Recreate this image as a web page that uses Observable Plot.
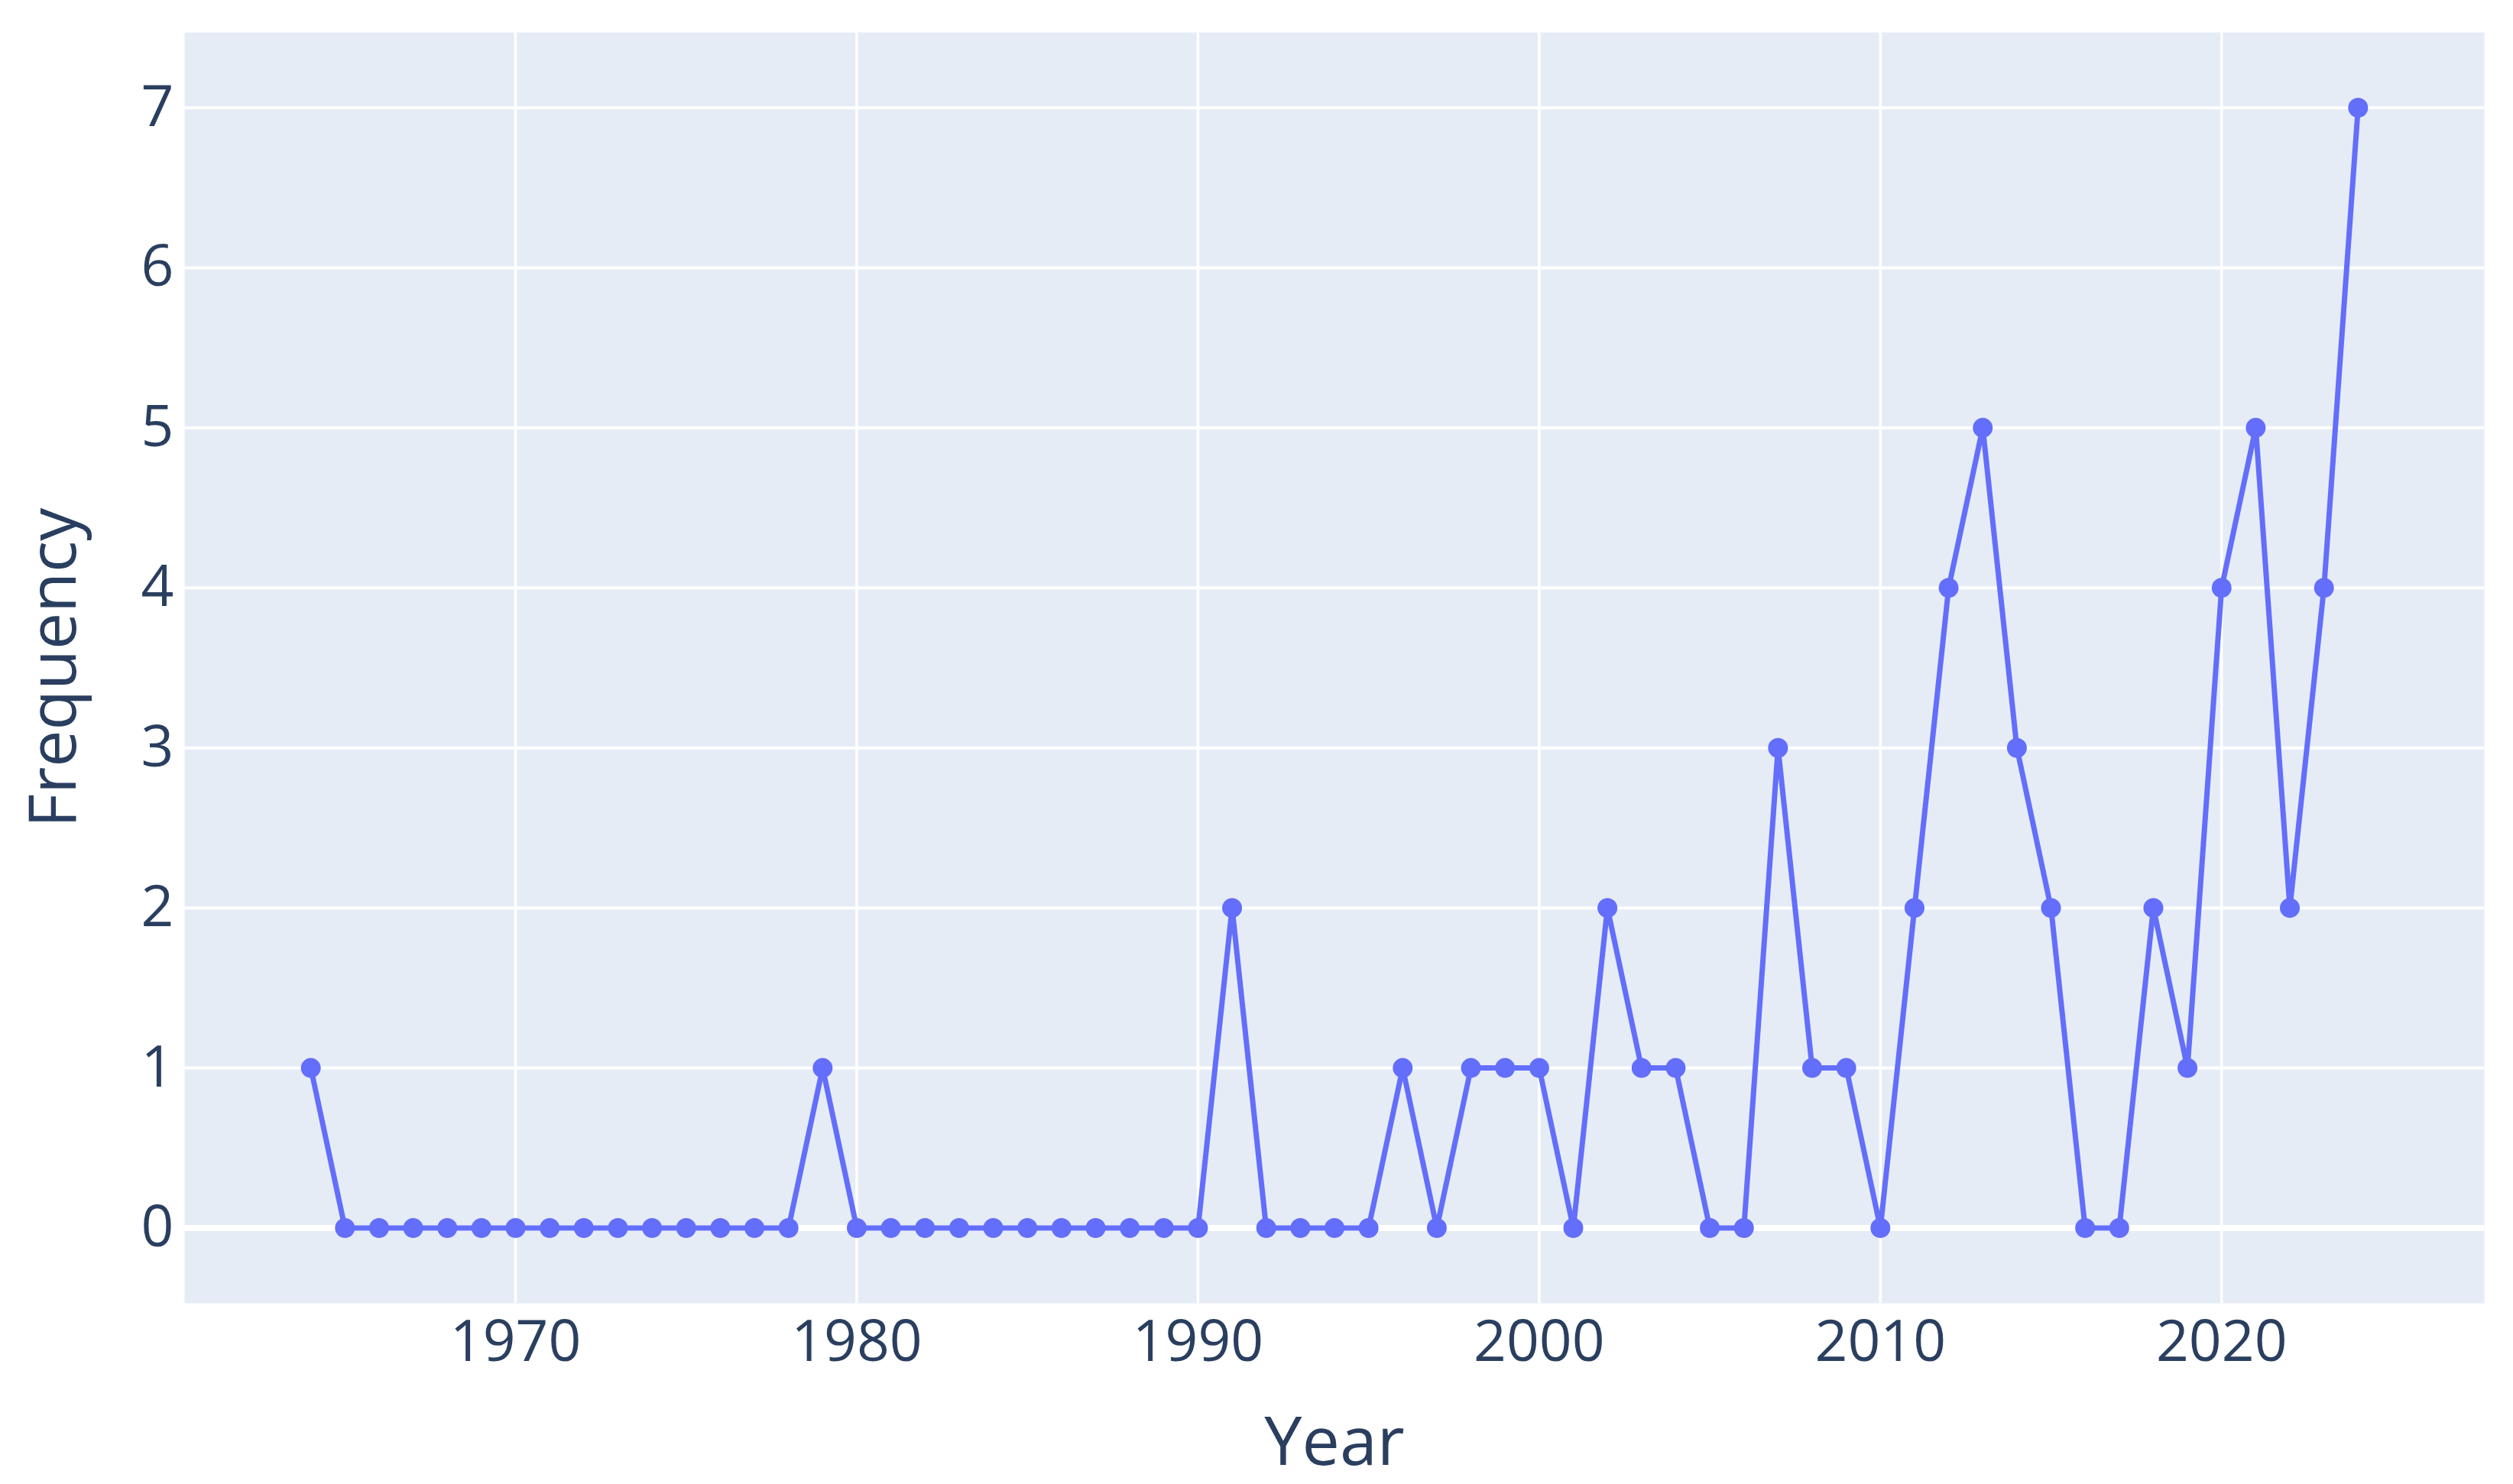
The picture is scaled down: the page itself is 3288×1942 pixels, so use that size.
<!DOCTYPE html>
<html>
<head>
<meta charset="utf-8">
<script src="https://cdn.jsdelivr.net/npm/d3@7"></script>
<script src="https://cdn.jsdelivr.net/npm/@observablehq/plot@0.6"></script>
<style>
  html, body { margin: 0; padding: 0; background: #ffffff; }
  svg { display: block; }
</style>
</head>
<body>
<div id="chart"></div>
<script>
const years = [1964,1965,1966,1967,1968,1969,1970,1971,1972,1973,1974,1975,1976,1977,1978,1979,1980,1981,1982,1983,1984,1985,1986,1987,1988,1989,1990,1991,1992,1993,1994,1995,1996,1997,1998,1999,2000,2001,2002,2003,2004,2005,2006,2007,2008,2009,2010,2011,2012,2013,2014,2015,2016,2017,2018,2019,2020,2021,2022,2023,2024];
const frequency = [1,0,0,0,0,0,0,0,0,0,0,0,0,0,0,1,0,0,0,0,0,0,0,0,0,0,0,2,0,0,0,0,1,0,1,1,1,0,2,1,1,0,0,3,1,1,0,2,4,5,3,2,0,0,2,1,4,5,2,4,7];
const xTicks = [1970, 1980, 1990, 2000, 2010, 2020];
const yTicks = [0, 1, 2, 3, 4, 5, 6, 7];
const xTitle = "Year";
const yTitle = "Frequency";

const data = years.map((y, i) => ({year: y, freq: frequency[i]}));

const lineColor = "#636EFA";
const textColor = "#2a3f5f";

const chart = Plot.plot({
  width: 3288,
  height: 1942,
  marginTop: 42,
  marginBottom: 237,
  marginLeft: 241,
  marginRight: 38,
  style: {fontFamily: "'Open Sans', sans-serif", background: "#ffffff", overflow: "visible"},
  x: {domain: [1960.3, 2027.7]},
  y: {domain: [-0.47, 7.47]},
  marks: [
    Plot.frame({fill: "#E5ECF6", stroke: null}),
    Plot.gridX(xTicks, {stroke: "#ffffff", strokeOpacity: 1, strokeWidth: 3.5}),
    Plot.gridY(yTicks.filter(d => d !== 0), {stroke: "#ffffff", strokeOpacity: 1, strokeWidth: 4}),
    Plot.ruleY([0], {stroke: "#ffffff", strokeWidth: 8}),
    Plot.axisX({ticks: xTicks, tickSize: 0, tickPadding: 22, fontSize: 75, fill: textColor, label: null, tickFormat: d => String(d)}),
    Plot.axisY({ticks: yTicks, tickSize: 0, tickPadding: 14, fontSize: 75, fill: textColor, label: null}),
    Plot.line(data, {x: "year", y: "freq", stroke: lineColor, strokeWidth: 7}),
    Plot.dot(data, {x: "year", y: "freq", r: 13, fill: lineColor, stroke: null}),
    Plot.text([xTitle], {frameAnchor: "bottom", dy: 183, lineAnchor: "middle", textAnchor: "middle", fontSize: 88, fill: textColor}),
    Plot.text([yTitle], {frameAnchor: "left", dx: -170, rotate: -90, lineAnchor: "middle", textAnchor: "middle", fontSize: 86, fill: textColor})
  ]
});
document.getElementById("chart").appendChild(chart);
</script>
</body>
</html>
